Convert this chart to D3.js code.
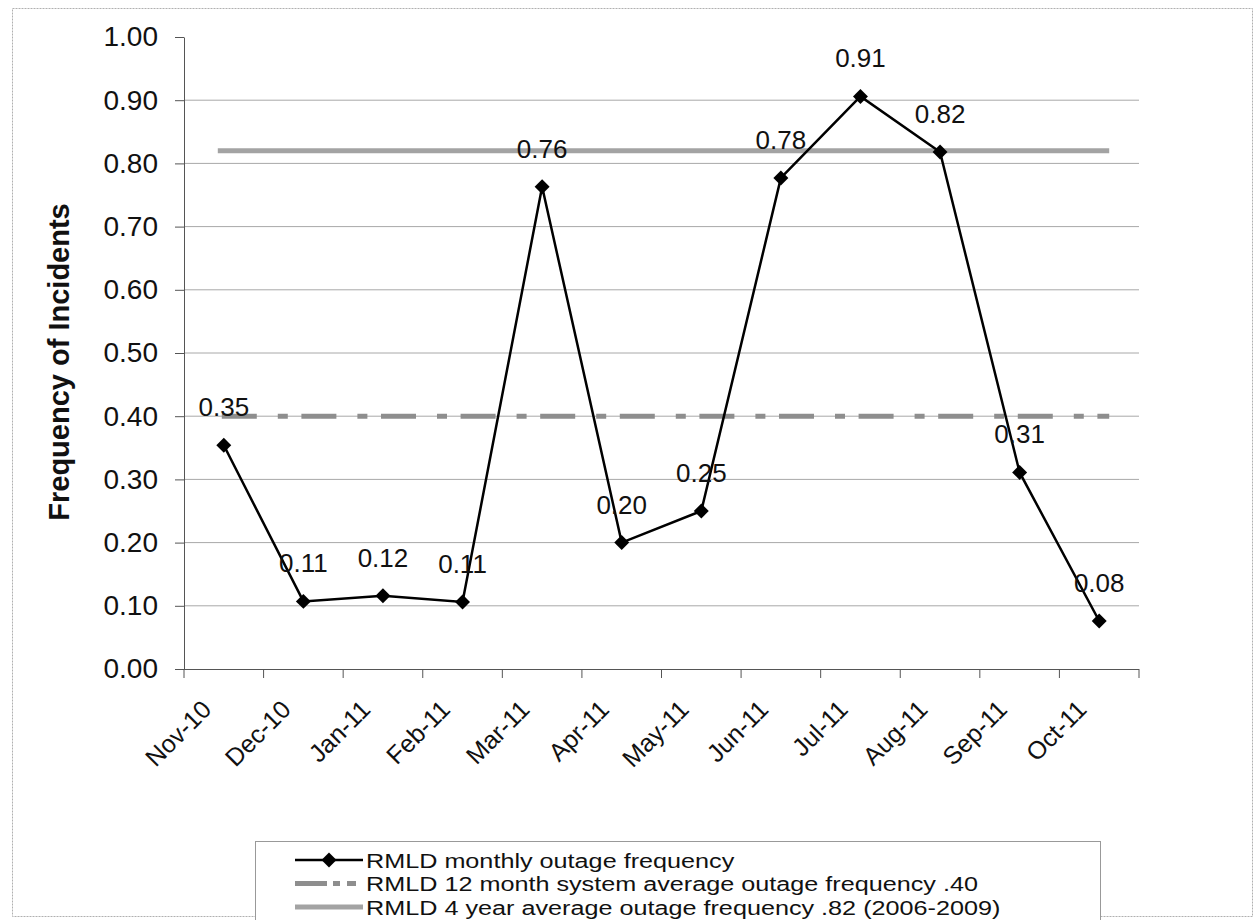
<!DOCTYPE html>
<html><head><meta charset="utf-8">
<script src="https://cdn.jsdelivr.net/npm/d3@7"></script>
<style>body{margin:0;background:#fff}text{font-family:"Liberation Sans",Arial,sans-serif}</style>
</head><body><svg id="c" width="1257" height="920"></svg>
<script>
const categories = ["Nov-10","Dec-10","Jan-11","Feb-11","Mar-11","Apr-11","May-11","Jun-11","Jul-11","Aug-11","Sep-11","Oct-11"];
const monthlyFrequency = [0.354,0.107,0.116,0.106,0.763,0.200,0.250,0.777,0.906,0.818,0.311,0.076];
const avg12Month = 0.40;
const avg4Year = 0.82;
const yTicks = [0,0.1,0.2,0.3,0.4,0.5,0.6,0.7,0.8,0.9,1.0];
const yTitle = "Frequency of Incidents";
const legendLabels = ["RMLD monthly outage frequency","RMLD 12 month system average outage frequency .40","RMLD 4 year average outage frequency .82 (2006-2009)"];

const svg = d3.select("#c");
const plot = {left:184, right:1139, top:37, bottom:669};
const FONT = "Liberation Sans, Arial, sans-serif";

// outer border
svg.append("rect").attr("x",12.5).attr("y",8.5).attr("width",1240).attr("height",908)
  .attr("fill","none").attr("stroke","#b0b0b0").attr("stroke-width",1).attr("stroke-dasharray","2,1");

const x = d3.scaleBand().domain(categories).range([plot.left, plot.right]).padding(0);
const cx = d => x(d) + x.bandwidth()/2;
const y = d3.scaleLinear().domain([0,1]).range([plot.bottom, plot.top]);

// gridlines
svg.append("g").selectAll("line").data(yTicks.filter(t => t > 0 && t < 1)).join("line")
  .attr("x1",plot.left).attr("x2",plot.right)
  .attr("y1",d=>y(d)).attr("y2",d=>y(d))
  .attr("stroke","#a8a8a8").attr("stroke-width",1);

// y axis
const yAxis = svg.append("g").attr("transform",`translate(${plot.left},0)`)
  .call(d3.axisLeft(y).tickValues(yTicks).tickFormat(d3.format(".2f")).tickSize(9).tickSizeOuter(0).tickPadding(17));
yAxis.select(".domain").attr("stroke","#555");
yAxis.selectAll(".tick line").attr("stroke","#555");
yAxis.selectAll("text").attr("font-size",28).attr("fill","#111").attr("font-family",FONT);

// y title
svg.append("text").attr("transform","translate(69,362) rotate(-90)")
  .attr("text-anchor","middle").attr("font-size",29).attr("font-weight","bold").attr("fill","#111")
  .text(yTitle);

// x axis
const xAxis = svg.append("g").attr("transform",`translate(0,${plot.bottom})`)
  .call(d3.axisBottom(x).tickSize(0).tickSizeOuter(0));
xAxis.select(".domain").attr("stroke","#555").attr("d",`M${plot.left-9},0.5H${plot.right}`);
xAxis.selectAll("text").attr("font-size",25).attr("fill","#111").attr("font-family",FONT)
  .attr("text-anchor","end").attr("x",0).attr("y",0).attr("dy",0)
  .attr("transform","translate(-11,42) rotate(-45)");
// boundary tick marks
const bounds = categories.map(c => x(c)).concat([x.range()[1]]);
svg.append("g").selectAll("line").data(bounds).join("line")
  .attr("x1",d=>d).attr("x2",d=>d).attr("y1",plot.bottom).attr("y2",plot.bottom+9)
  .attr("stroke","#555").attr("stroke-width",1);

// 4-year average line
const first = cx(categories[0]), last = cx(categories[categories.length-1]);
svg.append("line").attr("x1",first-6).attr("x2",last+10)
  .attr("y1",y(avg4Year)).attr("y2",y(avg4Year))
  .attr("stroke","#a3a3a3").attr("stroke-width",5);

// 12-month average line (long dash - dot)
svg.append("line").attr("x1",first-2).attr("x2",last+10)
  .attr("y1",y(avg12Month)).attr("y2",y(avg12Month))
  .attr("stroke","#8e8e8e").attr("stroke-width",5).attr("stroke-dasharray","35,21,10,13.6");

// monthly line
const line = d3.line().x((d,i)=>cx(categories[i])).y(d=>y(d));
svg.append("path").datum(monthlyFrequency).attr("d",line)
  .attr("fill","none").attr("stroke","#000").attr("stroke-width",2.5);

const diamond = d3.symbol().type(d3.symbolSquare).size(112);
svg.append("g").selectAll("path").data(monthlyFrequency).join("path")
  .attr("d",diamond)
  .attr("transform",(d,i)=>`translate(${cx(categories[i])},${y(d)}) rotate(45)`)
  .attr("fill","#000");

// data labels
svg.append("g").selectAll("text").data(monthlyFrequency).join("text")
  .attr("x",(d,i)=>cx(categories[i])).attr("y",d=>y(d)-29)
  .attr("text-anchor","middle").attr("font-size",26).attr("fill","#111")
  .text(d=>d3.format(".2f")(d));

// legend
const lg = svg.append("g");
lg.append("rect").attr("x",255.5).attr("y",841.5).attr("width",845).attr("height",80)
  .attr("fill","#fff").attr("stroke","#999").attr("stroke-width",1);
const rows = [860, 883.5, 907];
lg.append("line").attr("x1",295).attr("x2",363).attr("y1",rows[0]).attr("y2",rows[0]).attr("stroke","#000").attr("stroke-width",2.5);
lg.append("path").attr("d",diamond).attr("transform",`translate(329,${rows[0]}) rotate(45)`).attr("fill","#000");
lg.append("line").attr("x1",295).attr("x2",357).attr("y1",rows[1]).attr("y2",rows[1]).attr("stroke","#8e8e8e").attr("stroke-width",5).attr("stroke-dasharray","32,6,7,7,9,40");
lg.append("line").attr("x1",295).attr("x2",363).attr("y1",rows[2]).attr("y2",rows[2]).attr("stroke","#a3a3a3").attr("stroke-width",5);
lg.selectAll("text.l").data(legendLabels).join("text").attr("class","l")
  .attr("x",0).attr("y",0)
  .attr("transform",(d,i)=>`translate(366,${rows[i]+7.5}) scale(1.2,1)`)
  .attr("font-size",21).attr("fill","#111")
  .text(d=>d);
</script></body></html>
